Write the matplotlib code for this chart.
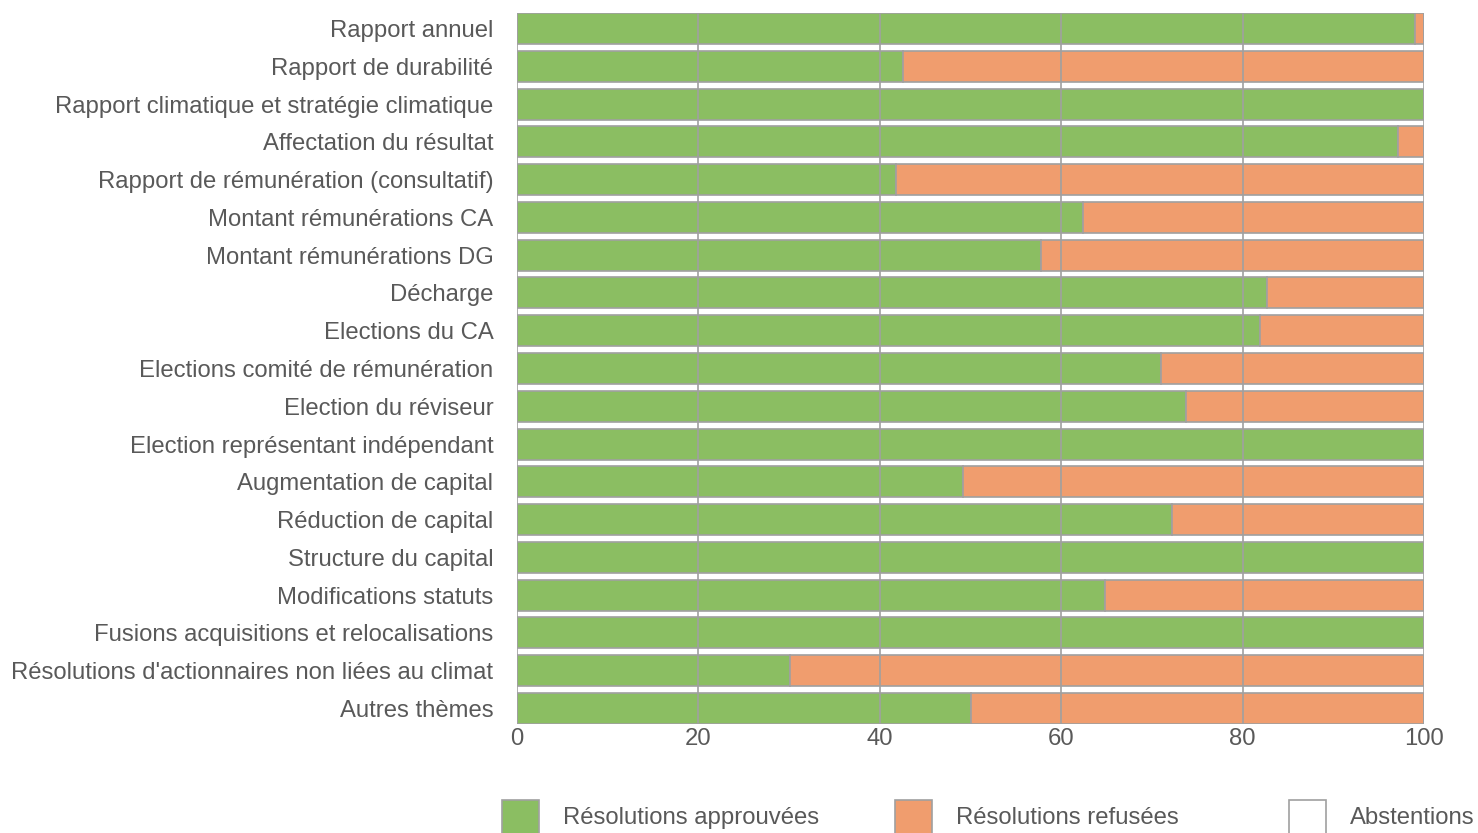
import matplotlib
matplotlib.use("Agg")
import matplotlib.pyplot as plt
from matplotlib.patches import Rectangle

plt.rcParams['font.family'] = ['Liberation Sans', 'DejaVu Sans']

categories = [
    "Rapport annuel",
    "Rapport de durabilité",
    "Rapport climatique et stratégie climatique",
    "Affectation du résultat",
    "Rapport de rémunération (consultatif)",
    "Montant rémunérations CA",
    "Montant rémunérations DG",
    "Décharge",
    "Elections du CA",
    "Elections comité de rémunération",
    "Election du réviseur",
    "Election représentant indépendant",
    "Augmentation de capital",
    "Réduction de capital",
    "Structure du capital",
    "Modifications statuts",
    "Fusions acquisitions et relocalisations",
    "Résolutions d'actionnaires non liées au climat",
    "Autres thèmes",
]
approved = [99.0, 42.6, 100.0, 97.1, 41.8, 62.4, 57.8, 82.7, 81.9, 71.0,
            73.8, 100.0, 49.2, 72.2, 100.0, 64.8, 100.0, 30.1, 50.1]
refused = [1.0, 57.4, 0.0, 2.9, 58.2, 37.6, 42.2, 17.3, 18.1, 29.0,
           26.2, 0.0, 50.8, 27.8, 0.0, 35.2, 0.0, 69.9, 49.9]
abstentions = [0.0] * 19
series_names = ["Résolutions approuvées", "Résolutions refusées", "Abstentions"]
colors = ["#8BBE62", "#F09D6E", "#FFFFFF"]
edge = "#A0A0A0"
txt = "#595959"
FS = 17.2

W, H = 1478, 833
fig = plt.figure(figsize=(W / 100, H / 100), dpi=100)
ax = fig.add_axes([517 / W, 1 - 724 / H, (1424 - 517) / W, (724 - 13) / H])

y = list(range(len(categories)))
left = [0.0] * len(categories)
for vals, col in zip([approved, refused, abstentions], colors):
    ax.barh(y, vals, left=left, height=0.82, color=col, edgecolor=edge,
            linewidth=1.2, zorder=2)
    left = [l + v for l, v in zip(left, vals)]

ax.set_xlim(0, 100)
ax.set_ylim(len(categories) - 1 + 0.41, -0.41)
ax.set_yticks(y)
ax.set_yticklabels(categories, fontsize=FS, color=txt)
ax.set_xticks([0, 20, 40, 60, 80, 100])
ax.tick_params(axis='y', length=0, pad=17)
ax.tick_params(axis='x', length=0, pad=3, labelsize=FS, labelcolor=txt)
ax.xaxis.grid(True, color=edge, linewidth=1.2, zorder=3)
ax.set_axisbelow(False)
for s in ax.spines.values():
    s.set_visible(False)

# legend (equal-width columns)
to_fig = lambda px, py: (px / W, 1 - py / H)
starts = [502, 895, 1289]
for sx, name, col in zip(starts, series_names, colors):
    x0, y0 = to_fig(sx, 838)
    fig.add_artist(Rectangle((x0, y0), 37 / W, 38 / H, transform=fig.transFigure,
                             facecolor=col, edgecolor=edge, linewidth=1.2))
    tx, ty = to_fig(sx + 61, 818)
    fig.text(tx, ty, name, fontsize=FS, color=txt, va='center', ha='left')

fig.savefig("out.png", dpi=100)
